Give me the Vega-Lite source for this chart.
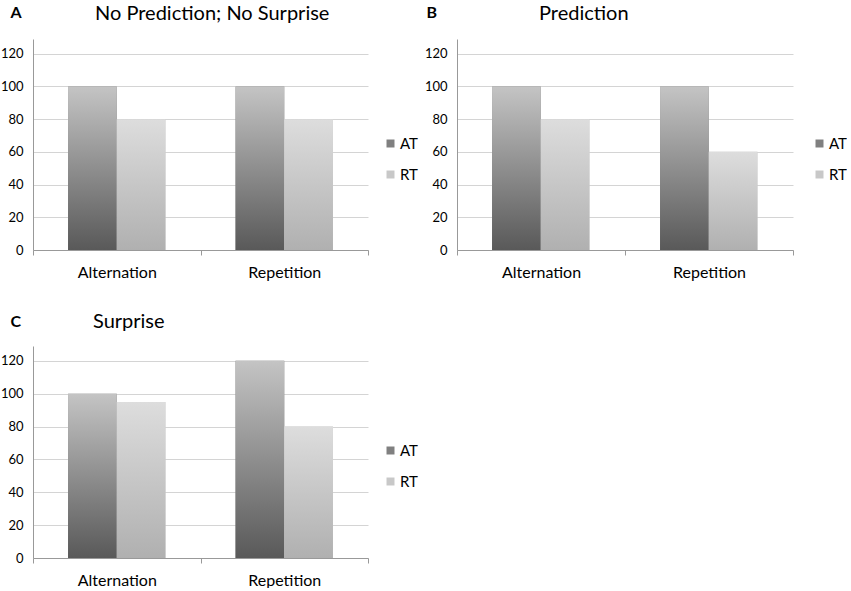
{
  "$schema": "https://vega.github.io/schema/vega-lite/v6.json",
  "padding": {"top": 4, "left": 0, "right": 0, "bottom": 0},
  "background": "white",
  "config": {
    "view": {"stroke": null},
    "font": "Lato",
    "axis": {"labelFont": "Lato", "titleFont": "Lato"},
    "legend": {"labelFont": "Lato", "padding": 0}
  },
  "datasets": {
    "panelA": [
      {"cond": "Alternation", "series": "AT", "value": 100},
      {"cond": "Alternation", "series": "RT", "value": 80},
      {"cond": "Repetition", "series": "AT", "value": 100},
      {"cond": "Repetition", "series": "RT", "value": 80}
    ],
    "panelB": [
      {"cond": "Alternation", "series": "AT", "value": 100},
      {"cond": "Alternation", "series": "RT", "value": 80},
      {"cond": "Repetition", "series": "AT", "value": 100},
      {"cond": "Repetition", "series": "RT", "value": 60}
    ],
    "panelC": [
      {"cond": "Alternation", "series": "AT", "value": 100},
      {"cond": "Alternation", "series": "RT", "value": 95},
      {"cond": "Repetition", "series": "AT", "value": 120},
      {"cond": "Repetition", "series": "RT", "value": 80}
    ]
  },
  "vconcat": [
    {
      "hconcat": [
        {
          "width": 335,
          "height": 211,
          "data": {"name": "panelA"},
          "title": {"text": "No Prediction; No Surprise", "anchor": "start", "frame": "group", "dx": 62, "fontSize": 20, "fontWeight": "normal", "offset": -20},
          "encoding": {
            "x": {"field": "cond", "type": "nominal", "sort": ["Alternation", "Repetition"],
              "scale": {"paddingInner": 0, "paddingOuter": 0},
              "axis": {"title": null, "labelAngle": 0, "labelFontSize": 16, "labelPadding": 9, "labelColor": "black", "domainColor": "#999999", "tickColor": "#999999", "tickSize": 5, "tickBand": "extent", "grid": false}},
            "xOffset": {"field": "series", "type": "nominal", "scale": {"domain": ["AT", "RT"], "paddingInner": 0, "paddingOuter": 0.72}},
            "y": {"field": "value", "type": "quantitative", "scale": {"domain": [0, 129], "nice": false},
              "axis": {"values": [0, 20, 40, 60, 80, 100, 120], "title": "A", "titleAngle": 0, "titleX": -23, "titleY": -22, "titleAlign": "left", "titleBaseline": "alphabetic", "titleFontSize": 16, "titleFontWeight": "bold", "titleColor": "black",
                "labelFontSize": 13, "labelPadding": 10, "labelColor": "black", "ticks": false, "domainColor": "#999999", "gridColor": "#d4d4d4"}}
          },
          "layer": [
            {"mark": {"type": "bar"},
              "encoding": {"fill": {"field": "series", "type": "nominal", "scale": {"domain": ["AT", "RT"], "range": ["#808080", "#c8c8c8"]},
                "legend": {"title": null, "orient": "none", "legendX": 350, "legendY": 97, "labelFontSize": 15, "symbolType": "square", "symbolSize": 64, "symbolStrokeWidth": 0, "rowPadding": 15, "labelOffset": 2, "labelColor": "black"}}}},
            {"transform": [{"filter": "datum.series === 'AT'"}],
              "mark": {"type": "bar", "fill": {"gradient": "linear", "x1": 0, "y1": 1, "x2": 0, "y2": 0, "stops": [{"offset": 0, "color": "#595959"}, {"offset": 1, "color": "#c4c4c4"}]}}},
            {"transform": [{"filter": "datum.series === 'RT'"}],
              "mark": {"type": "bar", "fill": {"gradient": "linear", "x1": 0, "y1": 1, "x2": 0, "y2": 0, "stops": [{"offset": 0, "color": "#b0b0b0"}, {"offset": 1, "color": "#dddddd"}]}}}
          ]
        },
        {
          "width": 336,
          "height": 211,
          "data": {"name": "panelB"},
          "title": {"text": "Prediction", "anchor": "start", "frame": "group", "dx": 82, "fontSize": 20, "fontWeight": "normal", "offset": -20},
          "encoding": {
            "x": {"field": "cond", "type": "nominal", "sort": ["Alternation", "Repetition"],
              "scale": {"paddingInner": 0, "paddingOuter": 0},
              "axis": {"title": null, "labelAngle": 0, "labelFontSize": 16, "labelPadding": 9, "labelColor": "black", "domainColor": "#999999", "tickColor": "#999999", "tickSize": 5, "tickBand": "extent", "grid": false}},
            "xOffset": {"field": "series", "type": "nominal", "scale": {"domain": ["AT", "RT"], "paddingInner": 0, "paddingOuter": 0.72}},
            "y": {"field": "value", "type": "quantitative", "scale": {"domain": [0, 129], "nice": false},
              "axis": {"values": [0, 20, 40, 60, 80, 100, 120], "title": "B", "titleAngle": 0, "titleX": -31, "titleY": -22, "titleAlign": "left", "titleBaseline": "alphabetic", "titleFontSize": 16, "titleFontWeight": "bold", "titleColor": "black",
                "labelFontSize": 13, "labelPadding": 10, "labelColor": "black", "ticks": false, "domainColor": "#999999", "gridColor": "#d4d4d4"}}
          },
          "layer": [
            {"mark": {"type": "bar"},
              "encoding": {"fill": {"field": "series", "type": "nominal", "scale": {"domain": ["AT", "RT"], "range": ["#808080", "#c8c8c8"]},
                "legend": {"title": null, "orient": "none", "legendX": 355, "legendY": 97, "labelFontSize": 15, "symbolType": "square", "symbolSize": 64, "symbolStrokeWidth": 0, "rowPadding": 15, "labelOffset": 2, "labelColor": "black"}}}},
            {"transform": [{"filter": "datum.series === 'AT'"}],
              "mark": {"type": "bar", "fill": {"gradient": "linear", "x1": 0, "y1": 1, "x2": 0, "y2": 0, "stops": [{"offset": 0, "color": "#595959"}, {"offset": 1, "color": "#c4c4c4"}]}}},
            {"transform": [{"filter": "datum.series === 'RT'"}],
              "mark": {"type": "bar", "fill": {"gradient": "linear", "x1": 0, "y1": 1, "x2": 0, "y2": 0, "stops": [{"offset": 0, "color": "#b0b0b0"}, {"offset": 1, "color": "#dddddd"}]}}}
          ]
        }
      ],
      "spacing": 6,
      "resolve": {"scale": {"fill": "independent"}, "legend": {"fill": "independent"}}
    },
    {
      "width": 335,
      "height": 212,
      "data": {"name": "panelC"},
      "title": {"text": "Surprise", "anchor": "start", "frame": "group", "dx": 60, "fontSize": 20, "fontWeight": "normal", "offset": -19},
      "encoding": {
        "x": {"field": "cond", "type": "nominal", "sort": ["Alternation", "Repetition"],
          "scale": {"paddingInner": 0, "paddingOuter": 0},
          "axis": {"title": null, "labelAngle": 0, "labelFontSize": 16, "labelPadding": 9, "labelColor": "black", "domainColor": "#999999", "tickColor": "#999999", "tickSize": 5, "tickBand": "extent", "grid": false}},
        "xOffset": {"field": "series", "type": "nominal", "scale": {"domain": ["AT", "RT"], "paddingInner": 0, "paddingOuter": 0.72}},
        "y": {"field": "value", "type": "quantitative", "scale": {"domain": [0, 129], "nice": false},
          "axis": {"values": [0, 20, 40, 60, 80, 100, 120], "title": "C", "titleAngle": 0, "titleX": -23, "titleY": -20, "titleAlign": "left", "titleBaseline": "alphabetic", "titleFontSize": 16, "titleFontWeight": "bold", "titleColor": "black",
            "labelFontSize": 13, "labelPadding": 10, "labelColor": "black", "ticks": false, "domainColor": "#999999", "gridColor": "#d4d4d4"}}
      },
      "layer": [
        {"mark": {"type": "bar"},
          "encoding": {"fill": {"field": "series", "type": "nominal", "scale": {"domain": ["AT", "RT"], "range": ["#808080", "#c8c8c8"]},
            "legend": {"title": null, "orient": "none", "legendX": 350, "legendY": 97, "labelFontSize": 15, "symbolType": "square", "symbolSize": 64, "symbolStrokeWidth": 0, "rowPadding": 15, "labelOffset": 2, "labelColor": "black"}}}},
        {"transform": [{"filter": "datum.series === 'AT'"}],
          "mark": {"type": "bar", "fill": {"gradient": "linear", "x1": 0, "y1": 1, "x2": 0, "y2": 0, "stops": [{"offset": 0, "color": "#595959"}, {"offset": 1, "color": "#c4c4c4"}]}}},
        {"transform": [{"filter": "datum.series === 'RT'"}],
          "mark": {"type": "bar", "fill": {"gradient": "linear", "x1": 0, "y1": 1, "x2": 0, "y2": 0, "stops": [{"offset": 0, "color": "#b0b0b0"}, {"offset": 1, "color": "#dddddd"}]}}}
      ]
    }
  ],
  "spacing": 32,
  "resolve": {"scale": {"fill": "independent"}, "legend": {"fill": "independent"}}
}
